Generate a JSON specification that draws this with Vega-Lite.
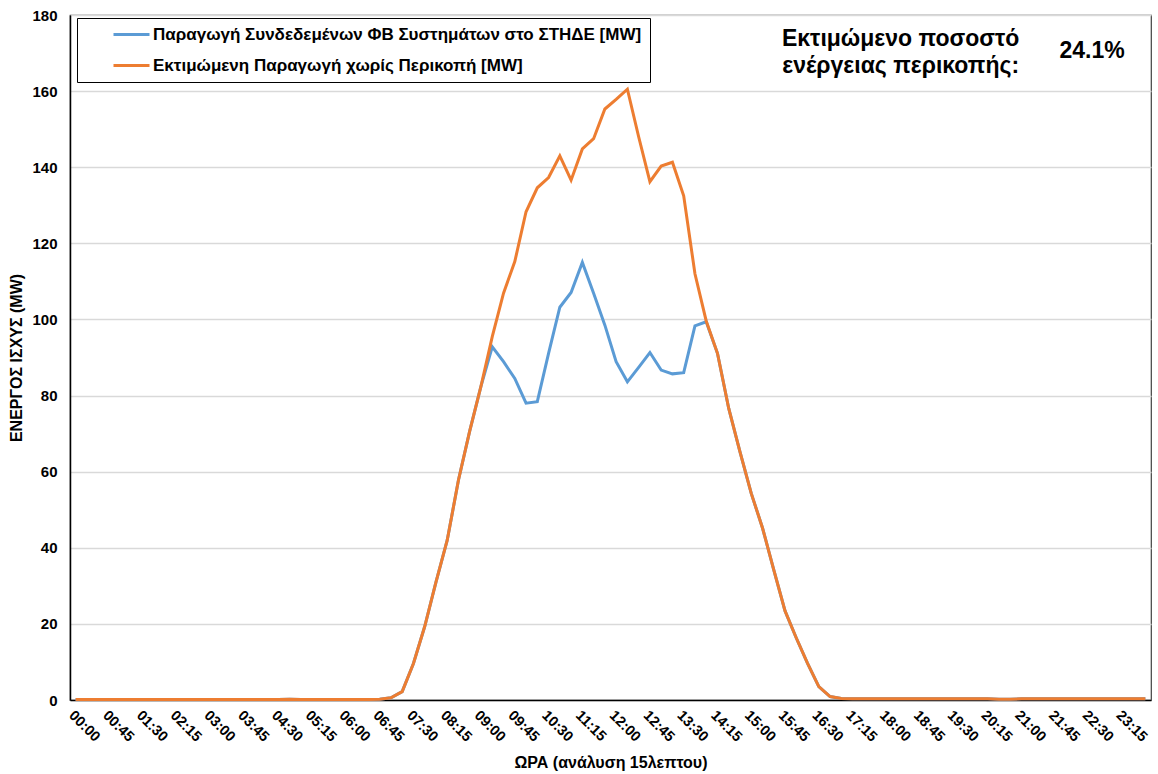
{
  "$schema": "https://vega.github.io/schema/vega-lite/v6.json",
  "width": 1081,
  "height": 685,
  "autosize": {"type": "none"},
  "padding": {"left": 70, "top": 15, "right": 7, "bottom": 74},
  "background": "white",
  "config": {
    "font": "Liberation Sans",
    "view": {"stroke": "#404040", "strokeWidth": 1.2}
  },
  "datasets": {
    "main": [
      {"t":"00:00","b":0.1,"o":0.1},{"t":"00:15","b":0.1,"o":0.1},{"t":"00:30","b":0.1,"o":0.1},{"t":"00:45","b":0.1,"o":0.1},
      {"t":"01:00","b":0.1,"o":0.1},{"t":"01:15","b":0.1,"o":0.1},{"t":"01:30","b":0.1,"o":0.1},{"t":"01:45","b":0.1,"o":0.1},
      {"t":"02:00","b":0.1,"o":0.1},{"t":"02:15","b":0.1,"o":0.1},{"t":"02:30","b":0.1,"o":0.1},{"t":"02:45","b":0.1,"o":0.1},
      {"t":"03:00","b":0.1,"o":0.1},{"t":"03:15","b":0.1,"o":0.1},{"t":"03:30","b":0.1,"o":0.1},{"t":"03:45","b":0.1,"o":0.1},
      {"t":"04:00","b":0.1,"o":0.1},{"t":"04:15","b":0.1,"o":0.1},{"t":"04:30","b":0.1,"o":0.1},{"t":"04:45","b":0.2,"o":0.2},
      {"t":"05:00","b":0.1,"o":0.1},{"t":"05:15","b":0.1,"o":0.1},{"t":"05:30","b":0.1,"o":0.1},{"t":"05:45","b":0.1,"o":0.1},
      {"t":"06:00","b":0.1,"o":0.1},{"t":"06:15","b":0.1,"o":0.1},{"t":"06:30","b":0.1,"o":0.1},{"t":"06:45","b":0.2,"o":0.2},
      {"t":"07:00","b":0.6,"o":0.6},{"t":"07:15","b":2.2,"o":2.2},{"t":"07:30","b":9.6,"o":9.6},{"t":"07:45","b":19.3,"o":19.3},
      {"t":"08:00","b":31.0,"o":31.0},{"t":"08:15","b":42.0,"o":42.0},{"t":"08:30","b":57.8,"o":57.8},{"t":"08:45","b":70.7,"o":70.7},
      {"t":"09:00","b":82.5,"o":82.5},{"t":"09:15","b":92.8,"o":95.5},{"t":"09:30","b":88.9,"o":106.9},{"t":"09:45","b":84.5,"o":115.2},
      {"t":"10:00","b":78.0,"o":128.3},{"t":"10:15","b":78.4,"o":134.6},{"t":"10:30","b":91.1,"o":137.3},{"t":"10:45","b":103.2,"o":143.0},
      {"t":"11:00","b":107.1,"o":136.6},{"t":"11:15","b":115.0,"o":144.8},{"t":"11:30","b":106.9,"o":147.5},{"t":"11:45","b":98.5,"o":155.3},
      {"t":"12:00","b":88.9,"o":157.8},{"t":"12:15","b":83.6,"o":160.5},{"t":"12:30","b":87.4,"o":148.0},{"t":"12:45","b":91.3,"o":136.2},
      {"t":"13:00","b":86.7,"o":140.3},{"t":"13:15","b":85.7,"o":141.3},{"t":"13:30","b":86.0,"o":132.5},{"t":"13:45","b":98.3,"o":112.0},
      {"t":"14:00","b":99.4,"o":99.6},{"t":"14:15","b":91.1,"o":91.1},{"t":"14:30","b":76.6,"o":76.6},{"t":"14:45","b":65.2,"o":65.2},
      {"t":"15:00","b":54.3,"o":54.3},{"t":"15:15","b":45.2,"o":45.2},{"t":"15:30","b":34.2,"o":34.2},{"t":"15:45","b":23.4,"o":23.4},
      {"t":"16:00","b":16.3,"o":16.3},{"t":"16:15","b":9.6,"o":9.6},{"t":"16:30","b":3.5,"o":3.5},{"t":"16:45","b":0.9,"o":0.9},
      {"t":"17:00","b":0.4,"o":0.4},{"t":"17:15","b":0.3,"o":0.3},{"t":"17:30","b":0.3,"o":0.3},{"t":"17:45","b":0.3,"o":0.3},
      {"t":"18:00","b":0.3,"o":0.3},{"t":"18:15","b":0.3,"o":0.3},{"t":"18:30","b":0.3,"o":0.3},{"t":"18:45","b":0.3,"o":0.3},
      {"t":"19:00","b":0.3,"o":0.3},{"t":"19:15","b":0.3,"o":0.3},{"t":"19:30","b":0.3,"o":0.3},{"t":"19:45","b":0.3,"o":0.3},
      {"t":"20:00","b":0.3,"o":0.3},{"t":"20:15","b":0.3,"o":0.3},{"t":"20:30","b":0.2,"o":0.2},{"t":"20:45","b":0.2,"o":0.2},
      {"t":"21:00","b":0.3,"o":0.3},{"t":"21:15","b":0.3,"o":0.3},{"t":"21:30","b":0.3,"o":0.3},{"t":"21:45","b":0.3,"o":0.3},
      {"t":"22:00","b":0.3,"o":0.3},{"t":"22:15","b":0.3,"o":0.3},{"t":"22:30","b":0.3,"o":0.3},{"t":"22:45","b":0.3,"o":0.3},
      {"t":"23:00","b":0.3,"o":0.3},{"t":"23:15","b":0.3,"o":0.3},{"t":"23:30","b":0.3,"o":0.3},{"t":"23:45","b":0.3,"o":0.3}
    ],
    "notes": [
      {"t":"18:15","v":173.8,"txt":"Εκτιμώμενο ποσοστό"},
      {"t":"18:15","v":166.6,"txt":"ενέργειας περικοπής:"},
      {"t":"22:30","v":170.6,"txt":"24.1%"}
    ]
  },
  "encoding": {
    "x": {
      "field": "t", "type": "ordinal", "sort": null,
      "scale": {"type": "point", "padding": 0.5},
      "axis": {
        "title": "ΩΡΑ (ανάλυση 15λεπτου)",
        "titleFont": "Liberation Sans", "titleFontSize": 16, "titleFontWeight": "bold", "titleColor": "#000",
        "titlePadding": 11,
        "values": ["00:00","00:45","01:30","02:15","03:00","03:45","04:30","05:15","06:00","06:45","07:30","08:15","09:00","09:45","10:30","11:15","12:00","12:45","13:30","14:15","15:00","15:45","16:30","17:15","18:00","18:45","19:30","20:15","21:00","21:45","22:30","23:15"],
        "labelAngle": 45, "labelAlign": "left", "labelBaseline": "top",
        "labelFont": "Liberation Sans", "labelFontSize": 14.5, "labelFontWeight": "bold", "labelColor": "#000",
        "labelPadding": 8,
        "ticks": false, "grid": false,
        "domainColor": "#000", "domainWidth": 1.5
      }
    }
  },
  "layer": [
    {
      "data": {"name": "main"},
      "transform": [{"fold": ["b", "o"], "as": ["k", "val"]}, {"filter": "datum.k == 'b'"}],
      "mark": {"type": "line", "strokeWidth": 3},
      "encoding": {
        "y": {
          "field": "val", "type": "quantitative",
          "scale": {"domain": [0, 180]},
          "axis": {
            "title": "ΕΝΕΡΓΟΣ ΙΣΧΥΣ (MW)",
            "titleFont": "Liberation Sans", "titleFontSize": 16, "titleFontWeight": "bold", "titleColor": "#000",
            "titlePadding": 7,
            "values": [0,20,40,60,80,100,120,140,160,180],
            "labelFont": "Liberation Sans", "labelFontSize": 15, "labelFontWeight": "bold", "labelColor": "#000",
            "labelPadding": 13,
            "ticks": false,
            "gridColor": "#d9d9d9", "gridWidth": 1.5,
            "domainColor": "#000", "domainWidth": 1.5
          }
        },
        "color": {
          "field": "k", "type": "nominal",
          "scale": {"domain": ["b", "o"], "range": ["#5B9BD5", "#ED7D31"]},
          "legend": {
            "orient": "none", "legendX": 7, "legendY": 3,
            "title": null,
            "labelExpr": "datum.value == 'b' ? 'Παραγωγή Συνδεδεμένων ΦΒ Συστημάτων στο ΣΤΗΔΕ [MW]' : 'Εκτιμώμενη Παραγωγή χωρίς Περικοπή [MW]'",
            "symbolType": "stroke", "symbolStrokeWidth": 3, "symbolSize": 1296,
            "symbolOffset": 27,
            "labelFont": "Liberation Sans", "labelFontSize": 17, "labelFontWeight": "bold", "labelColor": "#000",
            "labelOffset": 2, "labelLimit": 0,
            "clipHeight": 17, "rowPadding": 13,
            "padding": 8,
            "strokeColor": "#000", "fillColor": "white"
          }
        }
      }
    },
    {
      "data": {"name": "main"},
      "transform": [{"fold": ["b", "o"], "as": ["k", "val"]}, {"filter": "datum.k == 'o'"}],
      "mark": {"type": "line", "strokeWidth": 3},
      "encoding": {
        "y": {"field": "val", "type": "quantitative"},
        "color": {"field": "k", "type": "nominal"}
      }
    },
    {
      "data": {"name": "notes"},
      "mark": {"type": "text", "font": "Liberation Sans", "fontSize": 23, "fontWeight": "bold", "color": "#000", "align": "center", "baseline": "middle", "dx": 3},
      "encoding": {
        "y": {"field": "v", "type": "quantitative"},
        "text": {"field": "txt"}
      }
    }
  ]
}
